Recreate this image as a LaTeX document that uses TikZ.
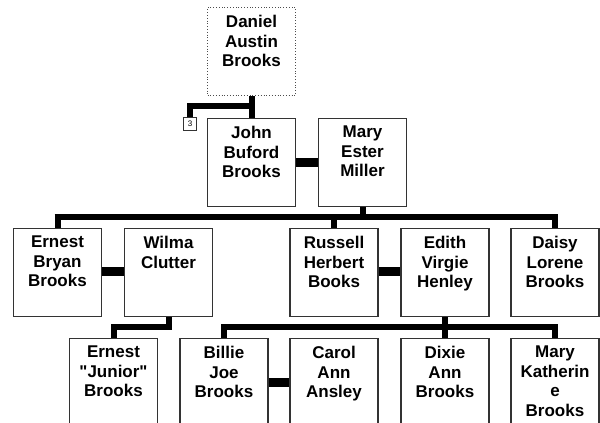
\documentclass[tikz,border=0pt]{standalone}
\usepackage{fontspec}
\setmainfont{Liberation Sans}
\newfontfamily\namefont{Liberation Sans}
\begin{document}
\begin{tikzpicture}[x=1pt,y=-1pt,
  box/.style={draw=black!80,line width=1.2pt,fill=white,minimum width=88pt,minimum height=88pt,inner sep=0pt,anchor=north},
  dbox/.style={box,draw=black!70,line width=0.8pt,dotted},
  txt/.style={anchor=north,align=center,inner sep=0pt,font=\namefont\bfseries\fontsize{17}{19.5}\selectfont},
  tie/.style={line width=6pt,black},
  wed/.style={line width=9pt,black},
  numbox/.style={draw=black!80,line width=0.9pt,fill=white,minimum width=13pt,minimum height=13pt,inner sep=0pt,anchor=north,font=\fontsize{8}{9}\selectfont}]
\useasboundingbox (0,0) rectangle (600,423);
\clip (0,0) rectangle (600,423);
\coordinate (jt) at (251.5,106);
\coordinate (jl) at (190,106);
\coordinate (mb) at (362.5,217);
\coordinate (bl) at (57.5,217);
\coordinate (br) at (555,217);
\coordinate (wb) at (168.5,327);
\coordinate (wl) at (113.5,327);
\coordinate (eb) at (445,327);
\coordinate (el) at (224,327);
\coordinate (er) at (555,327);
% boxes
\node[dbox] (daniel) at (251.5,7) {};
\node[box] (john) at (251.5,118) {};
\node[box] (mary) at (362.5,118) {};
\node[numbox] (n3) at (190,117) {3};
\node[box] (ernest) at (57.5,228) {};
\node[box] (wilma) at (168.5,228) {};
\node[box] (russell) at (334,228) {};
\node[box] (edith) at (445,228) {};
\node[box] (daisy) at (555,228) {};
\node[box] (junior) at (113.5,338) {};
\node[box] (billie) at (224,338) {};
\node[box] (carol) at (334,338) {};
\node[box] (dixie) at (445,338) {};
\node[box] (maryk) at (555,338) {};
% lines
\draw[tie] (daniel.south) -- (john.north);
\draw[tie] (jt) -- (jl) -- (n3.north);
\draw[wed] (john.east |- 0,162) -- (mary.west |- 0,162);
\draw[tie] (mary.south) -- (mb);
\draw[tie] ([xshift=-3pt]bl) -- ([xshift=3pt]br);
\draw[tie] (bl) -- (ernest.north);
\draw[tie] (russell.north |- mb) -- (russell.north);
\draw[tie] (br) -- (daisy.north);
\draw[wed] (ernest.east |- 0,271) -- (wilma.west |- 0,271);
\draw[wed] (russell.east |- 0,271) -- (edith.west |- 0,271);
\draw[tie] (wilma.south) -- (wb) -- (wl) -- (junior.north);
\draw[tie] (edith.south) -- (dixie.north);
\draw[tie] ([xshift=-3pt]el) -- ([xshift=3pt]er);
\draw[tie] (el) -- (billie.north);
\draw[tie] (er) -- (maryk.north);
\draw[wed] (billie.east |- 0,382) -- (carol.west |- 0,382);
% texts
\node[txt] at ([yshift=-8pt]daniel.north) {Daniel\\Austin\\Brooks};
\node[txt] at ([yshift=-8pt]john.north) {John\\Buford\\Brooks};
\node[txt] at ([yshift=-8pt]mary.north) {Mary\\Ester\\Miller};
\node[txt] at ([yshift=-8pt]ernest.north) {Ernest\\Bryan\\Brooks};
\node[txt] at ([yshift=-8pt]wilma.north) {Wilma\\Clutter};
\node[txt] at ([yshift=-8pt]russell.north) {Russell\\Herbert\\Books};
\node[txt] at ([yshift=-8pt]edith.north) {Edith\\Virgie\\Henley};
\node[txt] at ([yshift=-8pt]daisy.north) {Daisy\\Lorene\\Brooks};
\node[txt] at ([yshift=-8pt]junior.north) {Ernest\\"Junior"\\Brooks};
\node[txt] at ([yshift=-8pt]billie.north) {Billie\\Joe\\Brooks};
\node[txt] at ([yshift=-8pt]carol.north) {Carol\\Ann\\Ansley};
\node[txt] at ([yshift=-8pt]dixie.north) {Dixie\\Ann\\Brooks};
\node[txt] at ([yshift=-8pt]maryk.north) {Mary\\Katherin\\e\\Brooks};
\end{tikzpicture}
\end{document}
